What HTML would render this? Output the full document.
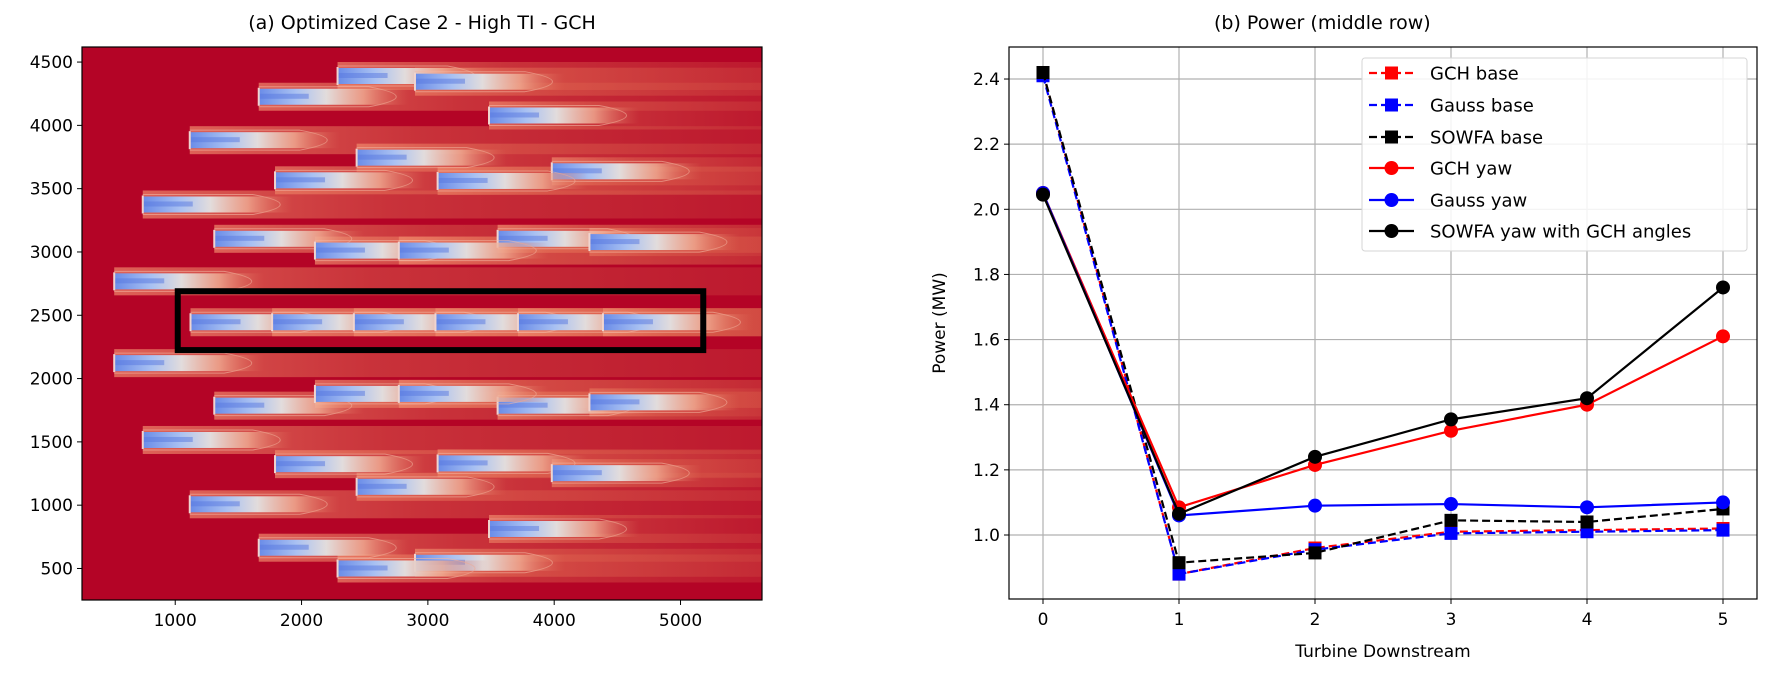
<!DOCTYPE html>
<html><head><meta charset="utf-8">
<style>
html,body{margin:0;padding:0;background:#fff;overflow:hidden;width:1768px;height:676px;}
svg{display:block;font-family:"DejaVu Sans","Liberation Sans",sans-serif;}
</style></head>
<body>
<svg id="fig" width="1768" height="676" viewBox="0 0 1768 676" xmlns="http://www.w3.org/2000/svg">
<defs>
  <linearGradient id="wakeG" x1="0" x2="1" y1="0" y2="0">
    <stop offset="0" stop-color="#6a8ce8"/>
    <stop offset="0.25" stop-color="#a9c1f2"/>
    <stop offset="0.45" stop-color="#e2dcdc"/>
    <stop offset="0.7" stop-color="#f0ad94" stop-opacity="0.8"/>
    <stop offset="1" stop-color="#e0705a" stop-opacity="0"/>
  </linearGradient>
  <linearGradient id="bandG" x1="0" x2="1" y1="0" y2="0">
    <stop offset="0" stop-color="#f08a6c" stop-opacity="0.7"/>
    <stop offset="0.4" stop-color="#e26a52" stop-opacity="0.45"/>
    <stop offset="1" stop-color="#d85a48" stop-opacity="0.25"/>
  </linearGradient>
  <clipPath id="clipL"><rect x="82" y="47" width="680" height="553"/></clipPath>
  <clipPath id="clipR"><rect x="1009" y="47" width="748" height="552"/></clipPath>
</defs>
<g id="left"></g>
<g id="right"></g>
</svg>
<script>
// ---------- Left panel data: turbine layout ----------
const turbX = [2285,2898,1661,3484,1115,2436,3981,1790,3077,743,1309,3552,4279,2106,2770,517,
               1121,1767,2414,3060,3713,4386,
               517,1309,3552,4279,2106,2770,743,1790,3077,3981,2436,1115,3484,1661,2898,2285];
const turbY = [4390,4345,4226,4078,3883,3745,3637,3566,3561,3375,3104,3104,3078,3011,3011,2768,
               2445,2445,2445,2445,2445,2445,
               2122,1786,1786,1812,1879,1879,1515,1324,1330,1253,1145,1007,812,664,545,500];
const xTicksL = [1000,2000,3000,4000,5000];
const yTicksL = [500,1000,1500,2000,2500,3000,3500,4000,4500];
const boxRegion = [1020,5180,2225,2690];

// ---------- Right panel data ----------
const turbines = [0,1,2,3,4,5];
const gchBase   = [2.42,0.88,0.96,1.01,1.015,1.02];
const gaussBase = [2.41,0.88,0.955,1.005,1.01,1.015];
const sowfaBase = [2.42,0.915,0.945,1.045,1.04,1.08];
const gchYaw    = [2.05,1.085,1.215,1.32,1.40,1.61];
const gaussYaw  = [2.05,1.06,1.09,1.095,1.085,1.10];
const sowfaYaw  = [2.045,1.065,1.24,1.355,1.42,1.76];
const yTicksR = [1.0,1.2,1.4,1.6,1.8,2.0,2.2,2.4];
const xTicksR = [0,1,2,3,4,5];
const seriesNames = ["GCH base","Gauss base","SOWFA base","GCH yaw","Gauss yaw","SOWFA yaw with GCH angles"];

const NS="http://www.w3.org/2000/svg";
function mk(tag,attrs,parent){const e=document.createElementNS(NS,tag);for(const k in attrs)e.setAttribute(k,attrs[k]);if(parent)parent.appendChild(e);return e;}

// ---------- Left panel ----------
const L=document.getElementById('left');
const lx=v=>82+(v-262)*(680/(5645-262));
const ly=v=>600-(v-251)*(553/(4619-251));
const title1=mk('text',{x:422,y:29,'font-size':19,'text-anchor':'middle',fill:'#000'},L);
title1.textContent='(a)  Optimized Case 2 - High TI - GCH';


const field=mk('g',{'clip-path':'url(#clipL)'},L);


mk('rect',{x:82,y:47,width:680,height:553,fill:'#b40426'},field);
const wakeH=22;
for(let i=0;i<turbX.length;i++){
  const x=lx(turbX[i]),y=ly(turbY[i]);
  const b=mk('rect',{x:x,y:y-wakeH/2-3,width:762-x,height:wakeH+6,fill:'url(#bandG)'},field);
  
  
}
for(let i=0;i<turbX.length;i++){
  const x=lx(turbX[i]),y=ly(turbY[i]);
  const g=mk('g',{},field);
  
  
  mk('path',{d:`M${x} ${y-wakeH/2+1} L${x+110} ${y-wakeH/2+1} Q${x+165} ${y} ${x+110} ${y+wakeH/2-1} L${x} ${y+wakeH/2-1}`,fill:'none',stroke:'#f2b8a4','stroke-width':1,opacity:0.6},g);
  mk('rect',{x:x,y:y-wakeH/2+3,width:150,height:wakeH-6,fill:'url(#wakeG)'},g);
  mk('rect',{x:x,y:y-3,width:50,height:5,fill:'#5878e0',opacity:0.5},g);
  mk('rect',{x:x-1,y:y-wakeH/2+2,width:2,height:wakeH-4,fill:'#f0d4cf'},g);
}
const rb=mk('rect',{x:lx(boxRegion[0]),y:ly(boxRegion[3]),width:lx(boxRegion[1])-lx(boxRegion[0]),height:ly(boxRegion[2])-ly(boxRegion[3]),fill:'none',stroke:'#000','stroke-width':6},field);


const frameL=mk('rect',{x:82,y:47,width:680,height:553,fill:'none',stroke:'#000','stroke-width':1.2},L);


xTicksL.forEach(v=>{const x=lx(v);mk('line',{x1:x,x2:x,y1:600,y2:605,stroke:'#000'},L);
  const t=mk('text',{x:x,y:626,'font-size':17,'text-anchor':'middle'},L);t.textContent=v;
  
  });
yTicksL.forEach(v=>{const y=ly(v);mk('line',{x1:77,x2:82,y1:y,y2:y,stroke:'#000'},L);
  const t=mk('text',{x:73,y:y+6,'font-size':17,'text-anchor':'end'},L);t.textContent=v;
  
  });

// ---------- Right panel ----------
const R=document.getElementById('right');
const rx=v=>1043+v*136;
const ry=v=>535-(v-1.0)*325.7;
const title2=mk('text',{x:1214,y:29,'font-size':19,'text-anchor':'start',fill:'#000','xml:space':'preserve'},R);
title2.textContent='(b)     Power (middle row)';


const grid=mk('g',{},R);


xTicksR.forEach(v=>mk('line',{x1:rx(v),x2:rx(v),y1:47,y2:599,stroke:'#b0b0b0','stroke-width':1.2},grid));
yTicksR.forEach(v=>mk('line',{x1:1009,x2:1757,y1:ry(v),y2:ry(v),stroke:'#b0b0b0','stroke-width':1.2},grid));
xTicksR.forEach(v=>{const x=rx(v);mk('line',{x1:x,x2:x,y1:599,y2:604,stroke:'#000'},R);
  const t=mk('text',{x:x,y:625,'font-size':17,'text-anchor':'middle'},R);t.textContent=v;
  
  });
yTicksR.forEach(v=>{const y=ry(v);mk('line',{x1:1004,x2:1009,y1:y,y2:y,stroke:'#000'},R);
  const t=mk('text',{x:1000,y:y+6,'font-size':17,'text-anchor':'end'},R);t.textContent=v.toFixed(1);
  
  });
const xl=mk('text',{x:1383,y:657,'font-size':17,'text-anchor':'middle'},R);xl.textContent='Turbine Downstream';


const yl=mk('text',{x:0,y:0,'font-size':17,'text-anchor':'middle',transform:'translate(945,323) rotate(-90)'},R);yl.textContent='Power (MW)';



const series=[
  {d:gchBase,c:'#ff0000',dash:true,m:'sq'},
  {d:gaussBase,c:'#0000ff',dash:true,m:'sq'},
  {d:sowfaBase,c:'#000000',dash:true,m:'sq'},
  {d:gchYaw,c:'#ff0000',dash:false,m:'ci'},
  {d:gaussYaw,c:'#0000ff',dash:false,m:'ci'},
  {d:sowfaYaw,c:'#000000',dash:false,m:'ci'}];
const plot=mk('g',{'clip-path':'url(#clipR)'},R);
function marker(par,m,x,y,c){
  if(m==='sq') return mk('rect',{x:x-6.5,y:y-6.5,width:13,height:13,fill:c},par);
  return mk('circle',{cx:x,cy:y,r:7,fill:c},par);
}
series.forEach((s,i)=>{
  const g=mk('g',{},plot);
  
  
  const pts=s.d.map((v,j)=>rx(turbines[j])+','+ry(v)).join(' ');
  const pl=mk('polyline',{points:pts,fill:'none',stroke:s.c,'stroke-width':2.2},g);
  if(s.dash)pl.setAttribute('stroke-dasharray','8,4');
  s.d.forEach((v,j)=>{const mm=marker(g,s.m,rx(turbines[j]),ry(v),s.c);
    
    });
});
const frameR=mk('rect',{x:1009,y:47,width:748,height:552,fill:'none',stroke:'#000','stroke-width':1.2},R);



// legend
const lg=mk('g',{},R);


mk('rect',{x:1362,y:58,width:385,height:193,rx:3,fill:'#fff','fill-opacity':0.85,stroke:'#d6d6d6'},lg);
const rowY=[73,105,137,168,200,231];
series.forEach((s,i)=>{
  const e=mk('g',{},lg);
  
  
  const ln=mk('line',{x1:1369,x2:1414,y1:rowY[i],y2:rowY[i],stroke:s.c,'stroke-width':2.2},e);
  if(s.dash)ln.setAttribute('stroke-dasharray','8,4');
  marker(e,s.m,1391.5,rowY[i],s.c);
  const t=mk('text',{x:1430,y:rowY[i]+6.5,'font-size':18},e);t.textContent=seriesNames[i];
});
</script>
</body></html>
